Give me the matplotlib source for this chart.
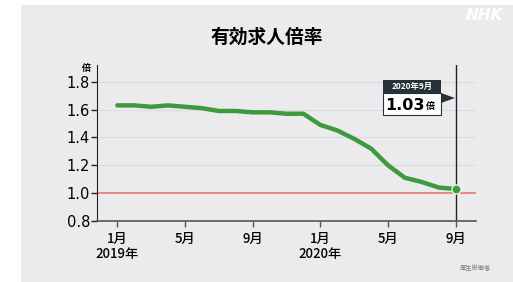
import matplotlib.pyplot as plt
import matplotlib.patches as mpatches

plt.rcParams['font.family'] = ['Noto Sans CJK JP', 'DejaVu Sans']

# 有効求人倍率 2019年1月 - 2020年9月
months = list(range(21))
ratio = [1.63, 1.63, 1.62, 1.63, 1.62, 1.61, 1.59, 1.59, 1.58, 1.58, 1.57, 1.57,
         1.49, 1.45, 1.39, 1.32, 1.20, 1.11, 1.08, 1.04, 1.03]
tickPos = [0, 4, 8, 12, 16, 20]
tickLabels = ['1月\n2019年', '5月', '9月', '1月\n2020年', '5月', '9月']
yTicks = [0.8, 1.0, 1.2, 1.4, 1.6, 1.8]

W, H = 513, 282
bg = '#ebebed'
green = '#3d9a3f'

fig = plt.figure(figsize=(W / 100, H / 100), dpi=100)
fig.patch.set_facecolor('white')


def fx(px):
    return px / W


def fy(py):
    return 1 - py / H


# gray panel
fig.patches.append(mpatches.Rectangle((fx(21), 0), 1 - fx(21), fy(5), transform=fig.transFigure,
                                      facecolor=bg, edgecolor='none', zorder=-5))

ax = fig.add_axes([fx(97), fy(221), fx(476) - fx(97), fy(65) - fy(221)])
ax.set_facecolor(bg)
ax.set_xlim(-1.2, 21.2)
ax.set_ylim(0.8, 1.92)

for v in yTicks[2:]:
    ax.axhline(v, color='#dcdcde', lw=0.8, zorder=1)
ax.axhline(1.0, color='#ea6a66', lw=1.1, zorder=2)
ax.axvline(months[-1], color='#222222', lw=1.0, zorder=2)

ax.plot(months, ratio, color=green, lw=3.2, solid_capstyle='round', solid_joinstyle='round', zorder=3)
ax.plot(months[-1], ratio[-1], 'o', ms=6.5, color=green, mec='#e8f5e0', mew=1.0, zorder=4)

ax.set_xticks(tickPos)
ax.set_xticklabels(tickLabels, fontsize=9.5, linespacing=1.05, fontweight='medium')
ax.set_yticks(yTicks)
ax.set_yticklabels(['%.1f' % v for v in yTicks], fontsize=10.5, family=['DejaVu Sans'])
ax.tick_params(axis='y', length=4, width=1, color='#222222', pad=1)
ax.tick_params(axis='x', length=4, width=1, color='#555555', pad=4, direction='out')

for s in ['top', 'right']:
    ax.spines[s].set_visible(False)
ax.spines['left'].set_color('#222222')
ax.spines['bottom'].set_color('#555555')
ax.spines['bottom'].set_linewidth(1.2)

fig.text(fx(267), fy(37), '有効求人倍率', ha='center', va='center', fontsize=13.5, fontweight='bold')
fig.text(fx(86), fy(68), '倍', ha='center', va='center', fontsize=6.5, fontweight='bold')
fig.text(fx(475), fy(268), '厚生労働省', ha='center', va='center', fontsize=4.5, color='#777777')
fig.text(fx(484), fy(16), 'NHK', ha='center', va='center', fontsize=11, fontweight='bold',
         style='italic', color='white', family=['DejaVu Sans'])

# callout
fig.patches.append(mpatches.Rectangle((fx(383), fy(93)), fx(441) - fx(383), fy(80) - fy(93),
                                      transform=fig.transFigure, facecolor='#263238', edgecolor='none', zorder=5))
fig.patches.append(mpatches.Rectangle((fx(383), fy(115)), fx(441) - fx(383), fy(93) - fy(115),
                                      transform=fig.transFigure, facecolor='white', edgecolor='#263238',
                                      lw=0.8, zorder=5))
fig.patches.append(mpatches.Polygon([(fx(441), fy(93)), (fx(441), fy(103)), (fx(455), fy(98))],
                                    transform=fig.transFigure, facecolor='#263238', edgecolor='none', zorder=5))
fig.text(fx(412), fy(86.5), '2020年9月', ha='center', va='center', fontsize=6, fontweight='bold',
         color='white', zorder=6)
fig.text(fx(425), fy(105), '1.03', ha='right', va='center', fontsize=11.5, fontweight='bold',
         family=['DejaVu Sans'], zorder=6)
fig.text(fx(426), fy(107), '倍', ha='left', va='center', fontsize=6.5, fontweight='bold', zorder=6)

fig.savefig('out.png', dpi=100, facecolor=fig.get_facecolor())
